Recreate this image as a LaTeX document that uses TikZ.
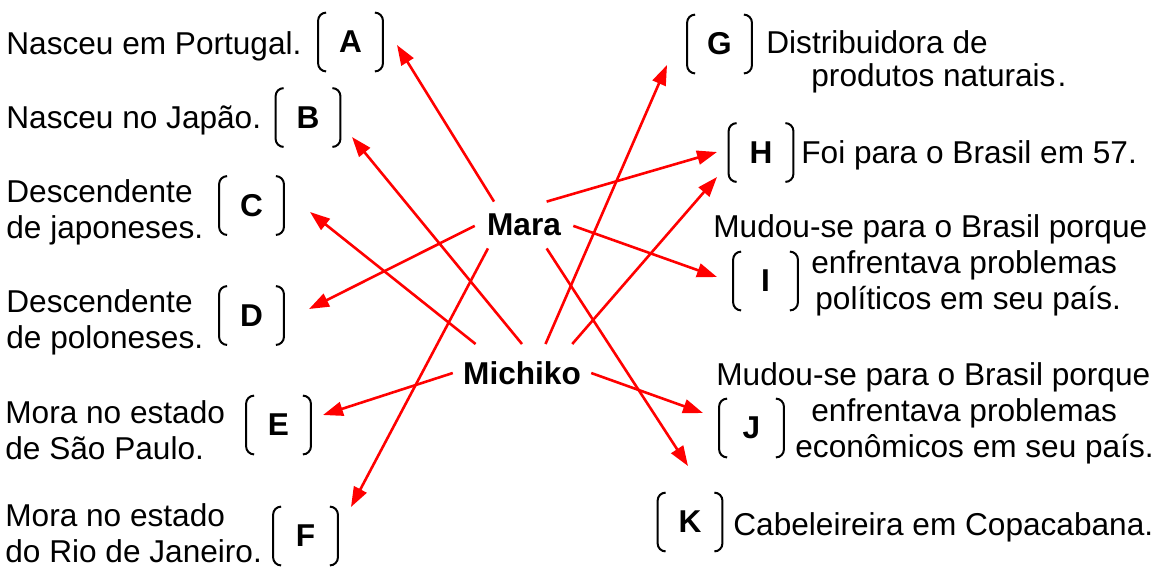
\documentclass[tikz,border=0pt]{standalone}
\usepackage{fontspec}
\setmainfont{Liberation Sans}
\usetikzlibrary{arrows.meta}
\newcommand{\txtsize}{\fontsize{15.8pt}{18pt}\selectfont}
\tikzstyle{item} = [inner sep=0pt, align=left]
\tikzstyle{letter} = [rectangle, minimum width=32pt, minimum height=29pt, inner sep=0pt, font=\txtsize\bfseries]
\tikzstyle{person} = [rectangle, inner xsep=6pt, inner ysep=6pt, font=\txtsize\bfseries]
\tikzstyle{bracket} = [line width=1pt, rounded corners=4pt]
\tikzstyle{link} = [red, line width=1.3pt, -{Triangle[length=10pt,width=7pt]}]

\begin{document}
\begin{tikzpicture}[x=0.5pt,y=-0.5pt,font=\txtsize]
\useasboundingbox (0,0) rectangle (1159,569);

% left column
\node (portugal) [item, anchor=base west] at (6,54) {Nasceu em Portugal.};
\node (japao) [item, anchor=base west] at (6,128) {Nasceu no Japão.};
\node (japoneses) [item, anchor=north west] at (6,179) {Descendente\\de japoneses.};
\node (poloneses) [item, anchor=north west] at (6,289) {Descendente\\de poloneses.};
\node (saopaulo) [item, anchor=north west] at (5,400) {Mora no estado\\de São Paulo.};
\node (rio) [item, anchor=north west] at (5,503) {Mora no estado\\do Rio de Janeiro.};
%
\node (boxA) [letter] at (350.5,42) {A};
\node (boxB) [letter] at (308,117.5) {B};
\node (boxC) [letter] at (251.5,205.5) {C};
\node (boxD) [letter] at (251.5,315.5) {D};
\node (boxE) [letter] at (278.5,425) {E};
\node (boxF) [letter] at (305.5,536) {F};

% right column
\node (boxG) [letter] at (719.5,44) {G};
\node (boxH) [letter] at (761,152.5) {H};
\node (boxI) [letter] at (765.5,281) {I};
\node (boxJ) [letter] at (751.5,428) {J};
\node (boxK) [letter] at (690,522) {K};
%
\node (distrib) [item, anchor=north west] at (766,30) {Distribuidora de\\[-1.5pt]\hspace*{22.5pt}produtos naturais\kern1pt.};
\node (brasil) [item, anchor=base west] at (801,163) {Foi para o Brasil em 57.};
\node (politicos) [item, anchor=north west] at (713,214) {Mudou-se para o Brasil porque\\\hspace*{49pt}enfrentava problemas\\\hspace*{51pt}políticos em seu país.};
\node (economicos) [item, anchor=north west] at (716,362) {Mudou-se para o Brasil porque\\\hspace*{47.5pt}enfrentava problemas\\\hspace*{39.5pt}econômicos em seu país.};
\node (cabeleireira) [item, anchor=base west] at (733,535) {Cabeleireira em Copacabana.};

% the two women
\node (mara) [person] at (524,225) {Mara};
\node (michiko) [person, inner xsep=5pt, inner ysep=8.5pt] at (522,373) {Michiko};

% arrow ends
\coordinate (tipA) at (397,45);
\coordinate (tipB) at (352,137);
\coordinate (tipC) at (310,212);
\coordinate (tipD) at (309,309);
\coordinate (tipE) at (323,415);
\coordinate (tipF) at (351,507);
\coordinate (tipG) at (667,65);
\coordinate (tipHa) at (717,152);
\coordinate (tipHb) at (717,177);
\coordinate (tipI) at (717,277);
\coordinate (tipJ) at (703,413);
\coordinate (tipK) at (688,466);

\foreach \l in {A,...,K} {
  \draw [bracket] ([xshift=4pt]box\l.north west) -- (box\l.north west) -- (box\l.south west) -- ([xshift=4pt]box\l.south west);
  \draw [bracket] ([xshift=-4pt]box\l.north east) -- (box\l.north east) -- (box\l.south east) -- ([xshift=-4pt]box\l.south east);
}

\draw [link] (mara.142) -- (tipA);
\draw [link] (mara.181) -- (tipD);
\draw [link] (mara.213) -- (tipF);
\draw [link] (mara.46) -- (tipHa);
\draw [link] (mara.359) -- (tipI);
\draw [link] (mara.314) -- (tipK);
%
\draw [link] (michiko.90) -- (tipB);
\draw [link] (michiko.148) -- (tipC);
\draw [link] (michiko.180) -- (tipE);
\draw [link] (michiko.51) -- (tipG);
\draw [link] (michiko.30) -- (tipHb);
\draw [link] (michiko.0) -- (tipJ);
\end{tikzpicture}
\end{document}
